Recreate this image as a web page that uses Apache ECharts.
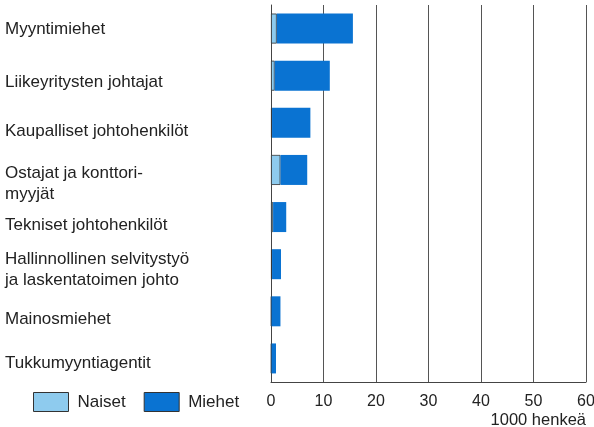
<!DOCTYPE html>
<html>
<head>
<meta charset="utf-8">
<script src="https://cdn.jsdelivr.net/npm/echarts@6/dist/echarts.min.js"></script>
<style>
  html, body { margin: 0; padding: 0; background: #fff; }
  #chart { width: 594px; height: 427px; }
</style>
</head>
<body>
<div id="chart"></div>
<script>
// ammatit
var categories = [
  "Myyntimiehet",
  "Liikeyritysten johtajat",
  "Kaupalliset johtohenkilöt",
  "Ostajat ja konttori-\nmyyjät",
  "Tekniset johtohenkilöt",
  "Hallinnollinen selvitystyö\nja laskentatoimen johto",
  "Mainosmiehet",
  "Tukkumyyntiagentit"
];
// 1000 henkeä
var naiset = [1.1, 0.7, 0.2, 1.8, 0.4, 0.2, 0.1, 0.1];
var miehet = [14.5, 10.5, 7.3, 5.1, 2.5, 1.7, 1.7, 0.85];
var xTicks = [0, 10, 20, 30, 40, 50, 60];

var FONT = "Liberation Sans";
var naisetColor = "#8ecbee";
var miehetColor = "#0a73d2";

// tekstin pystysiirto alaspäin palkin keskeltä (px)
var labelShift = [1, 7, 8, 14, 8, 6, 8, 5];

var rich = {
  t: { fontFamily: FONT, fontSize: 17, lineHeight: 21, color: "#222" }
};
labelShift.forEach(function (s, i) {
  rich["sp" + i] = { height: 2 * s, lineHeight: 2 * s, fontSize: 1 };
});

var chartDom = document.getElementById("chart");
var myChart = echarts.init(chartDom);

var option = {
  animation: false,
  grid: {
    left: 271,
    right: 8,
    top: 5,
    bottom: 45,
    containLabel: false,
    outerBoundsMode: "none"
  },
  legend: {
    left: 28,
    top: 387,
    itemWidth: 35,
    itemHeight: 19,
    itemGap: 18,
    icon: "rect",
    itemStyle: { borderColor: "#333", borderWidth: 1 },
    textStyle: {
      fontFamily: FONT,
      fontSize: 17,
      color: "#222",
      padding: [0, 0, 0, 4]
    },
    data: ["Naiset", "Miehet"]
  },
  xAxis: {
    type: "value",
    min: 0,
    max: 60,
    interval: 10,
    name: "1000 henkeä",
    nameLocation: "end",
    nameGap: 0,
    nameTextStyle: {
      fontFamily: FONT,
      fontSize: 16.5,
      color: "#222",
      align: "right",
      verticalAlign: "top",
      padding: [30, 0, 0, 0]
    },
    axisLine: { show: true, lineStyle: { color: "#444", width: 1 } },
    axisTick: { show: false },
    splitLine: { show: true, lineStyle: { color: "#555", width: 1 } },
    axisLabel: {
      fontFamily: FONT,
      fontSize: 16,
      color: "#222",
      margin: 12,
      customValues: xTicks
    }
  },
  yAxis: {
    type: "category",
    inverse: true,
    data: categories,
    axisLine: { show: true, lineStyle: { color: "#444", width: 1 } },
    axisTick: { show: false },
    axisLabel: {
      align: "left",
      margin: 266,
      fontFamily: FONT,
      fontSize: 17,
      lineHeight: 21,
      color: "#222",
      formatter: function (value, index) {
        var lines = value.split("\n").map(function (l) {
          return "{t|" + l + "}";
        });
        return "{sp" + index + "| }\n" + lines.join("\n");
      },
      rich: rich
    }
  },
  series: [
    {
      name: "Naiset",
      type: "bar",
      stack: "yht",
      barWidth: 30,
      data: naiset,
      itemStyle: { color: naisetColor, borderColor: "#333", borderWidth: 0.8 }
    },
    {
      name: "Miehet",
      type: "bar",
      stack: "yht",
      barWidth: 30,
      data: miehet,
      itemStyle: { color: miehetColor }
    }
  ]
};

option && myChart.setOption(option);
</script>
</body>
</html>
